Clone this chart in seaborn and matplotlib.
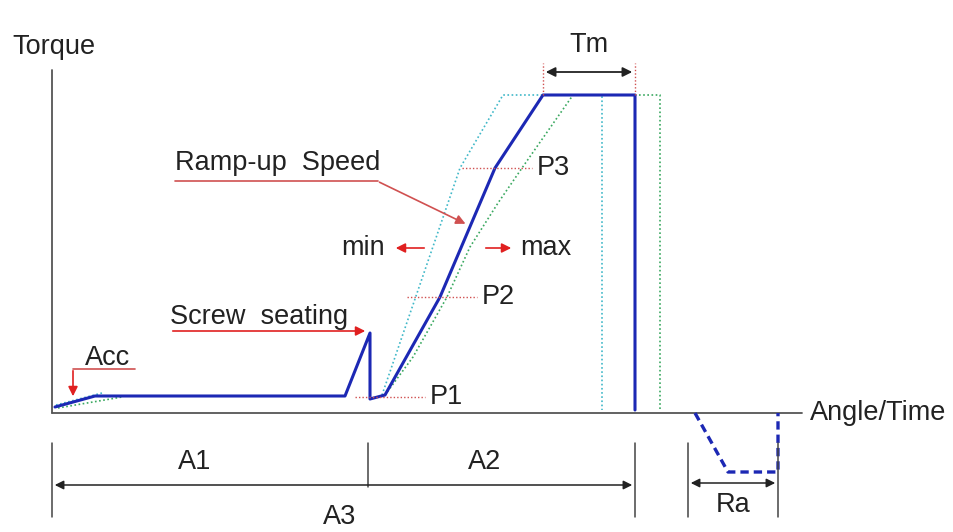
import numpy as np
import pandas as pd
import seaborn as sns
import matplotlib.pyplot as plt

# torque curve, angle/time on x and torque on y (origin at the axis corner)
main_angle = [3, 43, 293, 318, 318, 333, 388, 443, 491, 583, 583]
main_torque = [6, 17, 17, 80, 14, 18, 116, 245, 318, 318, 3]

min_angle = [330, 408, 451, 550, 550]
min_torque = [18, 245, 318, 318, 3]

max_angle = [333, 361, 395, 418, 446, 470, 521, 608, 608]
max_torque = [18, 56, 116, 166, 210, 245, 318, 318, 3]

# release angle curve (below axis)
ra_angle = [643, 676, 726, 726]
ra_torque = [0, -59, -59, 0]

# check points P1..P3
p_labels = ['P1', 'P2', 'P3']
p_torque = [16, 116, 245]
p_from = [303, 355, 410]
p_to = [373, 425, 480]

sns.set_style('white')
plt.rcParams['font.family'] = ['Liberation Sans', 'DejaVu Sans']
FS = 19.5

fig = plt.figure(figsize=(9.54, 5.32), dpi=100)
ax = fig.add_axes([0, 0, 1, 1])
ax.set_xlim(-52, 902)
ax.set_ylim(-119, 413)
ax.axis('off')

blue = '#1c28b4'
red = '#e02020'
reddot = '#d05050'
ink = '#222222'

# axes of the diagram
ax.plot([0, 0], [0, 343], color='#555555', lw=1.3)
ax.plot([0, 750], [0, 0], color='#555555', lw=1.3)
ax.text(-40, 366, 'Torque', fontsize=FS, color=ink, va='center')
ax.text(758, 0, 'Angle/Time', fontsize=FS, color=ink, va='center')

# min / max dotted curves
sns.lineplot(x=min_angle, y=min_torque, sort=False, estimator=None, ax=ax,
             color='#40b8c8', lw=1.2, linestyle=(0, (1, 1.5)))
sns.lineplot(x=max_angle, y=max_torque, sort=False, estimator=None, ax=ax,
             color='#3aa860', lw=1.2, linestyle=(0, (1, 1.5)))
ax.plot([4, 50], [8, 20], color='#40b8c8', lw=1.2, ls=(0, (1, 1.5)))
ax.plot([6, 70], [5, 16], color='#3aa860', lw=1.2, ls=(0, (1, 1.5)))

# main curve
sns.lineplot(x=main_angle, y=main_torque, sort=False, estimator=None, ax=ax,
             color=blue, lw=2.2)
sns.lineplot(x=ra_angle, y=ra_torque, sort=False, estimator=None, ax=ax,
             color=blue, lw=2.4, linestyle=(0, (2.5, 1.5)))

# P markers
for lab, t, a0, a1 in zip(p_labels, p_torque, p_from, p_to):
    ax.plot([a0, a1], [t, t], color=reddot, lw=1, ls=(0, (1, 1.5)))
    ax.text(a1 + 5, t, lab, fontsize=FS, color=ink, va='center')

# Tm dimension
for a in [491, 583]:
    ax.plot([a, a], [318, 350], color=reddot, lw=1, ls=(0, (1, 1.5)))
ax.annotate('', xy=(491, 341), xytext=(583, 341),
            arrowprops=dict(arrowstyle='<|-|>', color=ink, lw=1.3, mutation_scale=14))
ax.text(537, 368, 'Tm', fontsize=FS, color=ink, ha='center', va='center')

# Ramp-up speed label
ax.text(123, 250, 'Ramp-up  Speed', fontsize=FS, color=ink, va='center')
ax.plot([123, 326], [232, 232], color=reddot, lw=1.2)
ax.annotate('', xy=(416, 188), xytext=(325, 232),
            arrowprops=dict(arrowstyle='-|>', color=reddot, lw=1.2, mutation_scale=14))

# min / max arrows
ax.annotate('', xy=(341, 165), xytext=(375, 165),
            arrowprops=dict(arrowstyle='-|>', color=red, lw=1.2, mutation_scale=14))
ax.text(333, 165, 'min', fontsize=FS, color=ink, ha='right', va='center')
ax.annotate('', xy=(462, 165), xytext=(431, 165),
            arrowprops=dict(arrowstyle='-|>', color=red, lw=1.2, mutation_scale=14))
ax.text(468, 165, 'max', fontsize=FS, color=ink, va='center')

# screw seating
ax.text(118, 96, 'Screw  seating', fontsize=FS, color=ink, va='center')
ax.annotate('', xy=(316, 82), xytext=(118, 82),
            arrowprops=dict(arrowstyle='-|>', color=red, lw=1.2, mutation_scale=14))

# Acc
ax.text(33, 55, 'Acc', fontsize=FS, color=ink, va='center')
ax.plot([83, 21], [44, 44], color=reddot, lw=1.2)
ax.annotate('', xy=(21, 14), xytext=(21, 45),
            arrowprops=dict(arrowstyle='-|>', color=red, lw=1.2, mutation_scale=14))

# dimension lines below the axis
for a, lo in [(0, -104), (316, -74), (583, -104), (636, -104), (726, -104)]:
    ax.plot([a, a], [-30, lo], color='#444444', lw=1.1)
ax.annotate('', xy=(0, -72), xytext=(583, -72),
            arrowprops=dict(arrowstyle='<|-|>', color=ink, lw=1.1, mutation_scale=13))
ax.annotate('', xy=(636, -70), xytext=(726, -70),
            arrowprops=dict(arrowstyle='<|-|>', color=ink, lw=1.1, mutation_scale=13))
ax.text(143, -49, 'A1', fontsize=FS, color=ink, ha='center', va='center')
ax.text(433, -49, 'A2', fontsize=FS, color=ink, ha='center', va='center')
ax.text(288, -104, 'A3', fontsize=FS, color=ink, ha='center', va='center')
ax.text(681, -92, 'Ra', fontsize=FS, color=ink, ha='center', va='center')

fig.savefig('out.png', dpi=100)
